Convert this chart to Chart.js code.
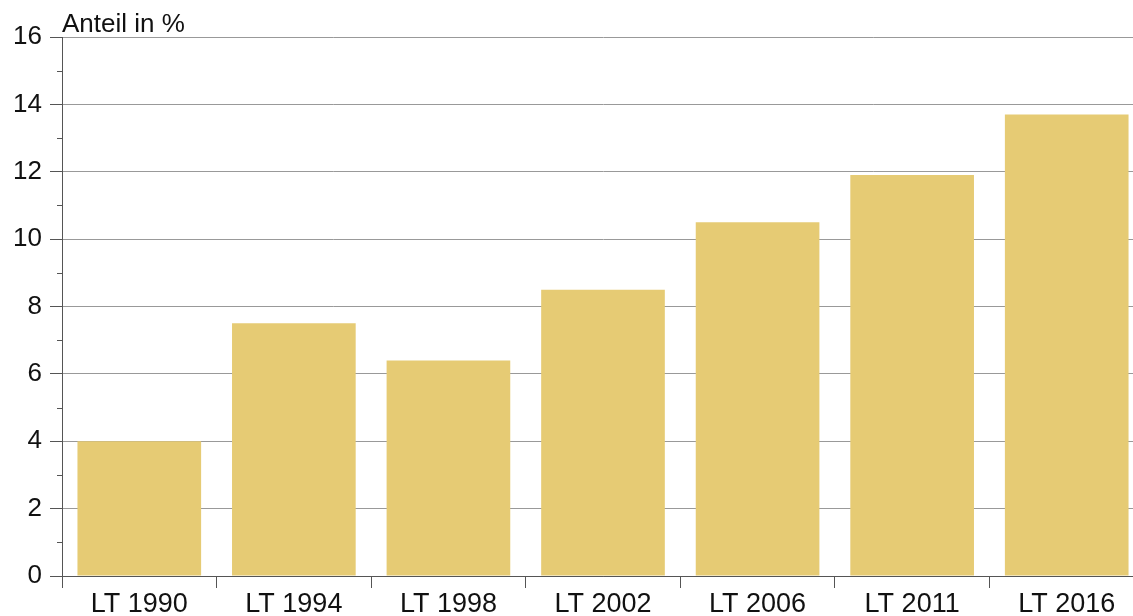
<!DOCTYPE html>
<html>
<head>
<meta charset="utf-8">
<script src="https://cdn.jsdelivr.net/npm/chart.js@4/dist/chart.umd.min.js"></script>
<style>
  html, body { margin: 0; padding: 0; background: #fff; overflow: hidden; }
  #wrap { width: 1144px; height: 616px; }
</style>
</head>
<body>
<div id="wrap"><canvas id="chart" width="1144" height="616"></canvas></div>
<script>
// -------- data --------
const CATEGORIES = ["LT 1990", "LT 1994", "LT 1998", "LT 2002", "LT 2006", "LT 2011", "LT 2016"];
const SHARE = [4.0, 7.5, 6.4, 8.5, 10.5, 11.9, 13.7];
const Y_TITLE = "Anteil in %";
const MINOR_TICKS = [1, 3, 5, 7, 9, 11, 13, 15];

const FONT = "'Liberation Sans', Arial, sans-serif";
const BAR = "#e6cb74";
const GRID = "#999999";
const AXIS = "#555555";

// title above the y axis + minor ticks at odd values
const extras = {
  id: "extras",
  afterDraw(chart) {
    const { ctx, chartArea } = chart;
    const y = chart.scales.y;
    ctx.save();
    ctx.strokeStyle = AXIS;
    ctx.lineWidth = 1;
    for (const v of MINOR_TICKS) {
      const py = Math.round(y.getPixelForValue(v)) + 0.5;
      ctx.beginPath();
      ctx.moveTo(chartArea.left - 5, py);
      ctx.lineTo(chartArea.left, py);
      ctx.stroke();
    }
    ctx.fillStyle = "#111";
    ctx.font = `26px ${FONT}`;
    ctx.textBaseline = "alphabetic";
    ctx.textAlign = "left";
    ctx.fillText(Y_TITLE, chartArea.left, chartArea.top - 5);
    ctx.restore();
  }
};

new Chart(document.getElementById("chart").getContext("2d"), {
  type: "bar",
  data: {
    labels: CATEGORIES,
    datasets: [{
      data: SHARE,
      backgroundColor: BAR,
      borderWidth: 0,
      categoryPercentage: 0.8,
      barPercentage: 1.0
    }]
  },
  options: {
    responsive: false,
    animation: false,
    layout: { padding: { top: 37, right: 0, left: 0, bottom: 0 } },
    plugins: { legend: { display: false }, tooltip: { enabled: false } },
    scales: {
      x: {
        offset: true,
        grid: {
          offset: true,
          drawOnChartArea: false,
          color: AXIS,
          tickLength: 12
        },
        border: { color: AXIS, width: 1 },
        ticks: {
          color: "#111",
          font: { family: FONT, size: 27 },
          padding: 0,
          maxRotation: 0
        },
        afterFit: (s) => { s.height = 40; }
      },
      y: {
        min: 0,
        max: 16,
        grid: {
          color: (c) => (c.tick && c.tick.value === 0 ? AXIS : GRID),
          tickColor: AXIS,
          tickLength: 12,
          lineWidth: 1
        },
        border: { color: AXIS, width: 1 },
        ticks: {
          stepSize: 2,
          color: "#111",
          font: { family: FONT, size: 26 },
          padding: 8
        },
        afterFit: (s) => { s.width = 62; }
      }
    }
  },
  plugins: [extras]
});
</script>
</body>
</html>
